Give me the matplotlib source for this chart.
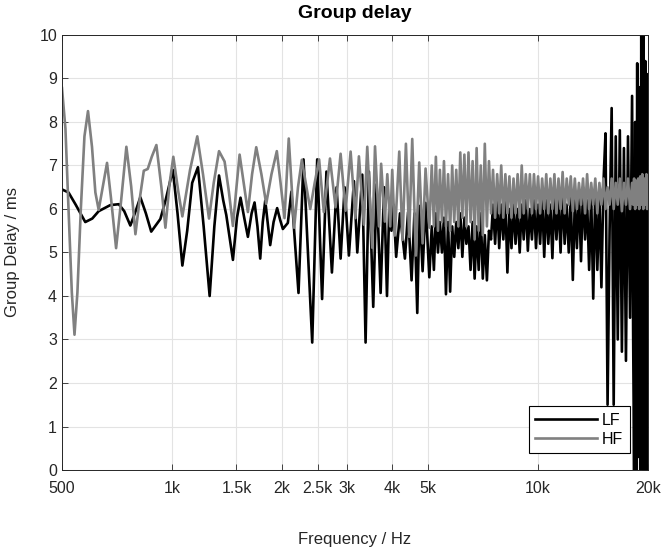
import matplotlib
matplotlib.use("Agg")
import matplotlib.pyplot as plt
import numpy as np

plt.rcParams['font.family'] = ['Liberation Sans', 'DejaVu Sans']

# --- data (frequency in Hz, group delay in ms) ---
# smooth part, LF driver
lf_freq_low = [500, 521, 545, 579, 605, 630, 678, 715, 740, 769,
               795, 819, 848, 877, 929, 960, 1005, 1035, 1067, 1100,
               1135, 1177, 1220, 1267, 1305, 1344, 1380, 1407, 1467, 1505,
               1539, 1575, 1612, 1650, 1681, 1712, 1742, 1770, 1798, 1825,
               1855, 1895, 1938, 1975, 2009, 2073, 2120, 2217, 2288, 2417,
               2494, 2572, 2643, 2736, 2818, 2890, 2964, 3045, 3143, 3210,
               3312, 3382, 3454, 3549, 3625, 3718, 3800, 3870, 3930, 3980,
               4030, 4100, 4200, 4332, 4420, 4518, 4600, 4683, 4750, 4843,
               4935, 5052]
lf_delay_low = [6.45, 6.38, 6.1, 5.70, 5.78, 5.95, 6.09, 6.11, 5.95, 5.62,
                5.95, 6.27, 5.9, 5.48, 5.77, 6.2, 6.9, 5.9, 4.70, 5.5,
                6.6, 6.96, 5.6, 4.0, 5.6, 6.77, 6.2, 5.86, 4.83, 5.8,
                6.26, 5.8, 5.36, 5.9, 6.15, 5.6, 4.86, 5.7, 6.19, 5.7,
                5.17, 5.7, 6.02, 5.75, 5.54, 5.68, 6.4, 4.07, 7.14, 2.93,
                7.14, 3.93, 6.86, 4.54, 6.5, 4.86, 6.5, 4.93, 6.64, 5.0,
                6.79, 2.93, 6.86, 3.75, 6.57, 4.07, 6.5, 4.0, 6.2, 5.5,
                6.1, 4.9, 5.9, 4.86, 5.93, 4.36, 5.9, 3.61, 6.07, 4.57,
                6.14, 4.43]

# smooth part, HF driver
hf_freq_low = [500, 511, 521, 532, 541, 551, 563, 576, 589, 604,
               617, 630, 646, 664, 681, 703, 725, 750, 773, 794,
               816, 837, 858, 880, 906, 935, 959, 985, 1008, 1040,
               1067, 1120, 1172, 1215, 1262, 1300, 1344, 1392, 1430, 1467,
               1500, 1530, 1570, 1612, 1655, 1699, 1755, 1809, 1870, 1934,
               1980, 2030, 2085, 2120, 2157, 2210, 2264, 2320, 2387, 2455,
               2524, 2600, 2703, 2799, 2890, 2981, 3078, 3172, 3243, 3346,
               3418, 3526, 3589, 3680, 3730, 3818, 3878, 3950, 4000, 4067,
               4181, 4268, 4360, 4450, 4537, 4641, 4741, 4843, 4934, 5052]
hf_delay_low = [8.78, 7.85, 6.0, 4.08, 3.11, 4.08, 6.0, 7.67, 8.25, 7.43,
                6.38, 5.98, 6.5, 7.06, 6.24, 5.10, 6.16, 7.43, 6.52, 5.42,
                6.24, 6.88, 6.92, 7.2, 7.47, 6.5, 5.57, 6.6, 7.2, 6.4,
                5.83, 6.9, 7.67, 6.8, 5.78, 6.6, 7.33, 7.09, 6.4, 5.61,
                6.5, 7.25, 6.6, 5.93, 6.8, 7.42, 6.8, 6.12, 6.8, 7.33,
                6.6, 5.79, 7.62, 6.6, 5.57, 6.5, 7.13, 6.6, 6.0, 6.6,
                7.14, 5.93, 7.16, 6.04, 7.27, 5.96, 7.32, 5.79, 7.21, 5.64,
                7.43, 5.11, 7.44, 5.6, 7.04, 5.71, 6.8, 5.6, 6.9, 5.39,
                7.32, 5.29, 7.5, 5.36, 7.61, 4.93, 7.07, 5.21, 6.93, 5.57]

# noisy part above 5 kHz, shared frequency points
freq_high = [5130, 5200, 5265, 5335, 5400, 5470, 5540, 5610, 5685, 5760,
             5835, 5910, 5985, 6065, 6140, 6220, 6300, 6380, 6465, 6550,
             6635, 6720, 6805, 6895, 6985, 7075, 7165, 7260, 7355, 7450,
             7545, 7645, 7745, 7845, 7945, 8050, 8155, 8260, 8365, 8475,
             8585, 8695, 8810, 8925, 9040, 9155, 9275, 9395, 9515, 9640,
             9765, 9890, 10020, 10150, 10280, 10415, 10550, 10685, 10825, 10965,
             11105, 11250, 11395, 11545, 11695, 11845, 12000, 12155, 12310, 12470,
             12630, 12795, 12960, 13130, 13300, 13470, 13645, 13820, 14000, 14180,
             14365, 14550, 14740, 14930, 15125, 15320, 15520, 15720, 15925, 16130,
             16340, 16550, 16765, 16985, 17205, 17425, 17650, 17880, 18110, 18230,
             18345, 18465, 18585, 18705, 18825, 18945, 19070, 19190, 19315, 19440,
             19565, 19690, 19820, 19910, 20000]
lf_delay_high = [5.6, 4.6, 5.9, 5.0, 5.7, 5.0, 5.8, 4.04, 5.7, 4.1,
                 5.6, 4.9, 5.7, 5.1, 5.9, 4.9, 5.8, 5.2, 5.6, 4.6,
                 5.7, 4.4, 5.6, 4.6, 5.9, 4.4, 5.4, 4.36, 5.5, 5.3,
                 6.1, 5.2, 6.2, 5.1, 6.1, 5.3, 6.2, 4.54, 6.0, 5.1,
                 6.1, 5.2, 6.0, 5.0, 6.1, 5.3, 6.2, 5.04, 6.0, 5.3,
                 6.2, 5.1, 6.1, 5.2, 6.3, 4.9, 6.2, 5.2, 6.1, 4.87,
                 6.3, 5.3, 6.2, 5.0, 6.4, 5.2, 6.1, 5.0, 6.3, 4.37,
                 6.2, 5.1, 6.4, 4.8, 6.5, 5.3, 6.2, 4.6, 6.3, 3.94,
                 6.5, 4.6, 6.3, 4.2, 6.6, 7.74, 1.5, 5.5, 8.32, 1.5,
                 7.67, 3.0, 7.81, 2.72, 7.4, 2.51, 7.67, 3.5, 8.6, 3.15,
                 0.0, 8.0, 0.0, 9.35, 0.3, 8.8, 0.0, 10.0, 0.0, 10.0,
                 0.0, 9.4, 0.0, 9.1, 0.5]
hf_delay_high = [7.0, 5.6, 7.2, 5.5, 6.9, 5.7, 7.1, 5.6, 6.8, 5.5,
                 7.0, 5.7, 6.9, 5.6, 7.3, 5.8, 7.25, 5.6, 7.3, 5.7,
                 7.1, 5.3, 7.4, 5.5, 7.0, 5.4, 7.5, 5.6, 7.1, 5.9,
                 6.9, 5.8, 6.8, 5.9, 7.0, 5.8, 6.8, 5.9, 6.75, 5.8,
                 6.7, 5.9, 6.8, 5.8, 7.0, 5.9, 6.8, 6.0, 6.8, 5.9,
                 6.8, 6.0, 6.75, 5.9, 6.7, 6.0, 6.8, 5.9, 6.7, 6.0,
                 6.8, 5.9, 6.7, 6.0, 6.85, 5.9, 6.7, 6.1, 6.75, 5.95,
                 6.7, 6.0, 6.6, 6.1, 6.7, 5.9, 6.8, 6.0, 6.6, 6.1,
                 6.7, 5.9, 6.6, 6.1, 6.7, 6.0, 6.5, 6.1, 6.7, 6.0,
                 6.6, 6.1, 6.7, 5.95, 6.6, 6.1, 6.7, 6.0, 6.6, 6.1,
                 6.7, 6.0, 6.65, 6.1, 6.7, 6.0, 6.75, 6.1, 6.8, 6.0,
                 6.7, 6.1, 6.8, 6.0, 6.4]

xtick_vals = [500, 1000, 1500, 2000, 2500, 3000, 4000, 5000, 10000, 20000]
xtick_labels = ['500', '1k', '1.5k', '2k', '2.5k', '3k', '4k', '5k', '10k', '20k']
ytick_vals = list(range(0, 11))

lf_freq = np.concatenate([lf_freq_low, freq_high])
lf_delay = np.concatenate([lf_delay_low, lf_delay_high])
hf_freq = np.concatenate([hf_freq_low, freq_high])
hf_delay = np.concatenate([hf_delay_low, hf_delay_high])

fig = plt.figure(figsize=(6.65, 5.51), dpi=100)
ax = fig.add_axes([0.0932, 0.147, 0.881, 0.7895])

ax.plot(lf_freq, lf_delay, color='black', lw=1.9, label='LF',
        solid_joinstyle='round')
ax.plot(hf_freq, hf_delay, color='#808080', lw=1.9, label='HF',
        solid_joinstyle='round')

ax.set_xscale('log')
ax.set_xlim(500, 20000)
ax.set_ylim(0, 10)
ax.set_xticks(xtick_vals)
ax.set_xticklabels(xtick_labels)
ax.xaxis.set_minor_locator(matplotlib.ticker.NullLocator())
ax.set_yticks(ytick_vals)

ax.grid(True, color='#e3e3e3', lw=0.8)
ax.set_axisbelow(True)
ax.tick_params(direction='in', top=True, right=True, length=4,
               labelsize=11.5, colors='#262626', width=0.6)
ax.tick_params(axis='x', pad=8)
for s in ax.spines.values():
    s.set_color('#262626')
    s.set_linewidth(0.7)

ax.set_title('Group delay', fontsize=14, fontweight='bold', pad=12)
ax.set_xlabel('Frequency / Hz', fontsize=12, color='#262626', labelpad=26)
ax.set_ylabel('Group Delay / ms', fontsize=12, color='#262626', labelpad=14)

leg = ax.legend(loc='lower right', bbox_to_anchor=(0.969, 0.039),
                borderaxespad=0, fancybox=False, framealpha=1,
                edgecolor='black', fontsize=11.5, handlelength=3.9,
                handletextpad=0.3, borderpad=0.4, labelspacing=0.25)
leg.get_frame().set_linewidth(0.8)

fig.savefig('out.png', dpi=100)
